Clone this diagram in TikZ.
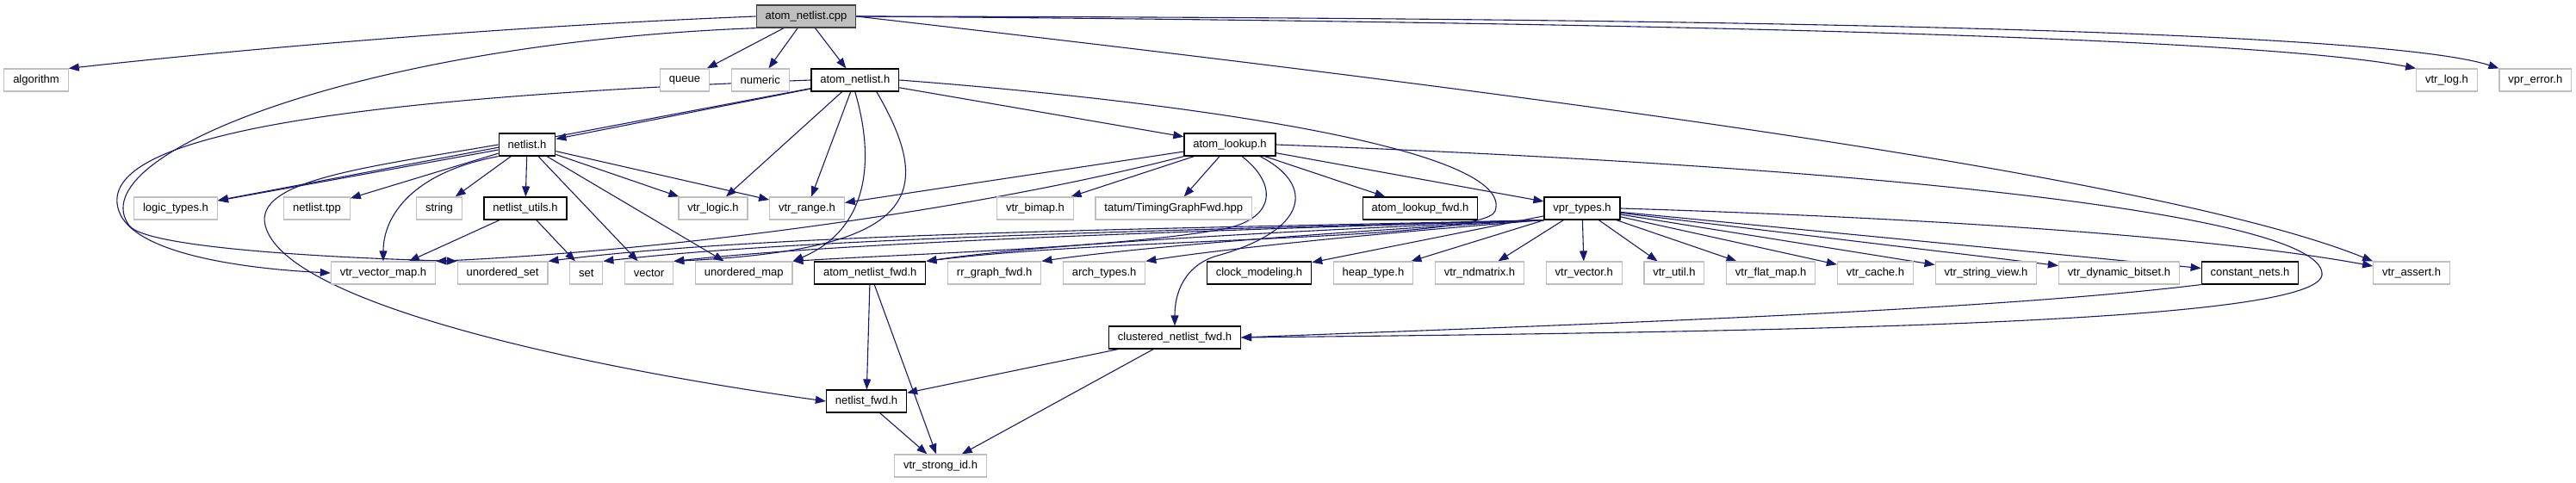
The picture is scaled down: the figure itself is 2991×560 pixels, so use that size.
\documentclass[tikz,border=0pt]{standalone}
\usepackage{fontspec}
\setmainfont{Liberation Sans}
\usetikzlibrary{positioning, arrows.meta}
\definecolor{edgeblue}{HTML}{191970}
\definecolor{boxgray}{HTML}{BFBFBF}
\definecolor{rootline}{HTML}{404040}
\pgfdeclarelayer{background}
\pgfsetlayers{background,main}
\tikzset{
  hdr/.style={draw=boxgray, fill=white, line width=1.2pt, minimum height=26pt,
    inner xsep=10.4pt, inner ysep=0pt, font=\fontsize{13}{15}\selectfont},
  dochdr/.style={hdr, draw=black},
  root/.style={hdr, draw=rootline, fill=boxgray},
  inc/.style={draw=edgeblue, line width=1.1pt, -{Triangle[length=12pt,width=9pt]}}
}

\begin{document}
\begin{tikzpicture}[x=1pt, y=-1pt, node distance=24.5pt]
    \useasboundingbox (0,0) rectangle (2991,560);
    \node[root] (cpp) at (936,19) {atom\_netlist.cpp};
    \node[hdr] (algorithm) at (42,93) {algorithm};
    \node[hdr] (queue) at (795,93) {queue};
    \node[hdr, right=of queue] (numeric) {numeric};
    \node[dochdr, right=of numeric] (anh) {atom\_netlist.h};
    \node[hdr] (vtrlog) at (2841,93) {vtr\_log.h};
    \node[hdr, right=of vtrlog] (vprerror) {vpr\_error.h};
    \node[dochdr] (netlist) at (612,168) {netlist.h};
    \node[dochdr] (lookup) at (1428,168) {atom\_lookup.h};
    \node[hdr] (logictypes) at (204,242) {logic\_types.h};
    \node[hdr] (netlisttpp) at (368,242) {netlist.tpp};
    \node[hdr] (string) at (510,242) {string};
    \node[dochdr, right=of string] (nutils) {netlist\_utils.h};
    \node[hdr] (vtrlogic) at (828,242) {vtr\_logic.h};
    \node[hdr, right=of vtrlogic] (vtrrange) {vtr\_range.h};
    \node[hdr] (bimap) at (1202,242) {vtr\_bimap.h};
    \node[hdr, right=of bimap] (tatum) {tatum/TimingGraphFwd.hpp};
    \node[dochdr] (lookupfwd) at (1649,242) {atom\_lookup\_fwd.h};
    \node[dochdr] (vprtypes) at (1837,242) {vpr\_types.h};
    \node[hdr] (vecmap) at (445,317) {vtr\_vector\_map.h};
    \node[hdr, right=of vecmap] (uset) {unordered\_set};
    \node[hdr, right=of uset] (set) {set};
    \node[hdr, right=of set] (vector) {vector};
    \node[hdr, right=of vector] (umap) {unordered\_map};
    \node[dochdr, right=of umap] (anfwd) {atom\_netlist\_fwd.h};
    \node[hdr, right=of anfwd] (rrfwd) {rr\_graph\_fwd.h};
    \node[hdr, right=of rrfwd] (arch) {arch\_types.h};
    \node[dochdr] (clock) at (1462,317) {clock\_modeling.h};
    \node[hdr, right=of clock] (heap) {heap\_type.h};
    \node[hdr, right=of heap] (ndmatrix) {vtr\_ndmatrix.h};
    \node[hdr, right=of ndmatrix] (vtrvector) {vtr\_vector.h};
    \node[hdr, right=of vtrvector] (util) {vtr\_util.h};
    \node[hdr, right=of util] (flatmap) {vtr\_flat\_map.h};
    \node[hdr, right=of flatmap] (cache) {vtr\_cache.h};
    \node[hdr, right=of cache] (strview) {vtr\_string\_view.h};
    \node[hdr, right=of strview] (bitset) {vtr\_dynamic\_bitset.h};
    \node[dochdr, right=of bitset] (cnets) {constant\_nets.h};
    \node[hdr] (assert) at (2800,317) {vtr\_assert.h};
    \node[dochdr] (clfwd) at (1364,392) {clustered\_netlist\_fwd.h};
    \node[dochdr] (nfwd) at (1006,466) {netlist\_fwd.h};
    \node[hdr] (strongid) at (1092,541) {vtr\_strong\_id.h};

    \begin{pgfonlayer}{background}
    % atom_netlist.cpp
    \draw[inc] (cpp.west) .. controls (600,30) and (300,55) .. (algorithm.north east);
    \draw[inc] (cpp) -- (queue);
    \draw[inc] (cpp) -- (numeric);
    \draw[inc] (cpp) -- (anh);
    \draw[inc] (cpp.south west) .. controls (420,50) and (90,180) .. (150,262)
        .. controls (170,289) and (400,300) .. (uset.north west);
    \draw[inc] (cpp.east) .. controls (1800,25) and (2600,40) .. (vtrlog.north west);
    \draw[inc] (cpp.east) .. controls (1800,20) and (2750,30) .. (vprerror.north west);
    \draw[inc] (cpp.east) .. controls (1700,100) and (2500,200) .. (assert.north west);
    % atom_netlist.h
    \draw[inc] (anh) -- (netlist);
    \draw[inc] (anh) -- (logictypes);
    \draw[inc] (anh.west) .. controls (450,112) and (105,150) .. (138,245)
        .. controls (158,302) and (320,314) .. (vecmap.west);
    \draw[inc] (anh) -- (vtrlogic);
    \draw[inc] (anh) -- (vtrrange);
    \draw[inc] (anh.south) .. controls (1020,200) and (1000,270) .. (umap.north east);
    \draw[inc] ([xshift=25pt]anh.south) .. controls (1090,230) and (1060,290) .. (vector.north east);
    \draw[inc] (anh) -- (lookup);
    \draw[inc] (anh.east) .. controls (1400,120) and (1760,175) .. (1736,245)
        .. controls (1724,280) and (1300,275) .. (anfwd.north east);
    % netlist.h
    \draw[inc] (netlist) -- (logictypes);
    \draw[inc] (netlist) -- (netlisttpp);
    \draw[inc] (netlist) -- (string);
    \draw[inc] (netlist) -- (nutils);
    \draw[inc] (netlist) -- (vtrlogic);
    \draw[inc] (netlist) -- (vtrrange);
    \draw[inc] (netlist) -- (vector);
    \draw[inc] (netlist) -- (umap);
    \draw[inc] (netlist.south west) .. controls (480,200) and (445,250) .. (vecmap.north);
    \draw[inc] (netlist.west) .. controls (420,195) and (295,210) .. (308,262)
        .. controls (332,356) and (700,430) .. (nfwd.west);
    \draw[inc] (nutils) -- (vecmap);
    \draw[inc] (nutils) -- (set);
    % atom_lookup.h
    \draw[inc] (lookup) -- (vtrrange);
    \draw[inc] (lookup.south west) .. controls (1150,240) and (800,290) .. (vecmap.north east);
    \draw[inc] (lookup) -- (bimap);
    \draw[inc] (lookup) -- (tatum);
    \draw[inc] (lookup) -- (lookupfwd);
    \draw[inc] (lookup) -- (vprtypes);
    \draw[inc] ([xshift=14pt]lookup.south) .. controls (1485,215) and (1480,255) .. (1420,266)
        .. controls (1300,288) and (1050,295) .. (umap.north east);
    \draw[inc] ([xshift=35pt]lookup.south) .. controls (1528,215) and (1520,268) .. (1410,298)
        .. controls (1375,310) and (1364,340) .. (clfwd.north);
    \draw[inc] (lookup.east) .. controls (2200,195) and (2690,250) .. (2696,317)
        .. controls (2705,375) and (2100,385) .. (clfwd.east);
    % vpr_types.h
    \draw[inc] (vprtypes.south west) .. controls (1400,265) and (900,270) .. (uset.north east);
    \draw[inc] (vprtypes.south west) .. controls (1400,267) and (950,275) .. (set.north east);
    \draw[inc] (vprtypes.south west) .. controls (1400,268) and (1000,280) .. (vector.north east);
    \draw[inc] (vprtypes.south west) .. controls (1450,270) and (1200,285) .. (anfwd.north east);
    \draw[inc] (vprtypes.south west) .. controls (1500,272) and (1300,290) .. (rrfwd.north east);
    \draw[inc] (vprtypes.south west) .. controls (1550,275) and (1400,292) .. (arch.north east);
    \draw[inc] (vprtypes) -- (clock);
    \draw[inc] (vprtypes) -- (heap);
    \draw[inc] (vprtypes) -- (ndmatrix);
    \draw[inc] (vprtypes) -- (vtrvector);
    \draw[inc] (vprtypes) -- (util);
    \draw[inc] (vprtypes) -- (flatmap);
    \draw[inc] (vprtypes) -- (cache);
    \draw[inc] (vprtypes) -- (strview);
    \draw[inc] (vprtypes) -- (bitset);
    \draw[inc] (vprtypes) -- (cnets);
    \draw[inc] (vprtypes.east) .. controls (2300,255) and (2600,280) .. (assert.170);
    % forward headers
    \draw[inc] (cnets.south west) .. controls (2300,362) and (1800,378) .. (clfwd.east);
    \draw[inc] (anfwd) -- (nfwd);
    \draw[inc] (anfwd) -- (strongid);
    \draw[inc] (nfwd) -- (strongid);
    \draw[inc] (clfwd) -- (nfwd);
    \draw[inc] (clfwd) -- (strongid);
    \end{pgfonlayer}
  \end{tikzpicture}
\end{document}
